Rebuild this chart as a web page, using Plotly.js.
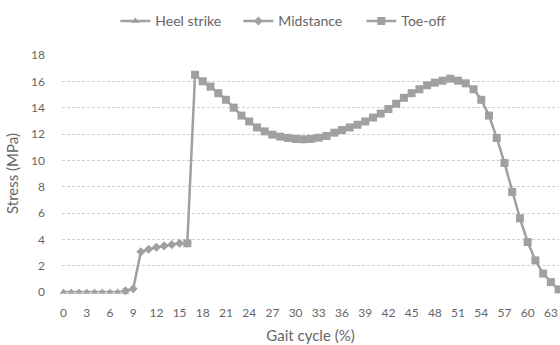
<!DOCTYPE html>
<html>
<head>
<meta charset="utf-8">
<script src="https://cdn.plot.ly/plotly-3.0.1.min.js"></script>
<style>html,body{margin:0;padding:0;background:#fff}#chart{width:560px;height:345px}</style>
</head>
<body>
<div id="chart"></div>
<script>
// Gait cycle (%) categories per series
const heelX = [0, 1, 2, 3, 4, 5, 6, 7, 8];
const heelY = [0, 0, 0, 0, 0, 0, 0, 0, 0];

const midX = [8, 9, 10, 11, 12, 13, 14, 15, 16];
const midY = [0.1, 0.25, 3.05, 3.25, 3.4, 3.5, 3.6, 3.7, 3.7];

const toeX = [16, 17, 18, 19, 20, 21, 22, 23, 24, 25, 26, 27, 28, 29, 30, 31, 32, 33, 34, 35, 36, 37, 38, 39, 40,
              41, 42, 43, 44, 45, 46, 47, 48, 49, 50, 51, 52, 53, 54, 55, 56, 57, 58, 59, 60, 61, 62, 63, 64];
const toeY = [3.7, 16.5, 16.0, 15.6, 15.1, 14.6, 14.0, 13.4, 12.95, 12.5, 12.2, 11.95, 11.8, 11.7, 11.62, 11.6, 11.63, 11.72, 11.85, 12.1, 12.3, 12.5, 12.7, 12.95, 13.25,
              13.55, 13.9, 14.3, 14.75, 15.1, 15.4, 15.7, 15.9, 16.05, 16.2, 16.05, 15.85, 15.4, 14.6, 13.4, 11.7, 9.8, 7.6, 5.6, 3.8, 2.4, 1.4, 0.75, 0.2];

const xTickVals = [0, 3, 6, 9, 12, 15, 18, 21, 24, 27, 30, 33, 36, 39, 42, 45, 48, 51, 54, 57, 60, 63];
const yTickVals = [0, 2, 4, 6, 8, 10, 12, 14, 16, 18];

const seriesNames = ['Heel strike', 'Midstance', 'Toe-off'];

const gray = '#a0a0a0';
const txt = '#666666';
const fam = 'Lato, "Open Sans", sans-serif';

function tr(x, y, name, symbol, size) {
  return {
    x: x, y: y, name: name, type: 'scatter', mode: 'lines+markers',
    line: {color: gray, width: 2.5},
    marker: {color: gray, symbol: symbol, size: size},
    cliponaxis: false
  };
}

const data = [
  tr(heelX, heelY, seriesNames[0], 'triangle-up', 7),
  tr(midX, midY, seriesNames[1], 'diamond', 7),
  tr(toeX, toeY, seriesNames[2], 'square', 8)
];

const layout = {
  width: 560, height: 345,
  margin: {l: 62, r: 1, t: 55, b: 53},
  paper_bgcolor: '#fff', plot_bgcolor: '#fff',
  font: {family: fam, color: txt, size: 12},
  showlegend: true,
  legend: {
    orientation: 'h', xref: 'container', yref: 'container',
    x: 0.206, xanchor: 'left', y: 0.938, yanchor: 'middle',
    font: {family: fam, color: txt, size: 14},
    itemwidth: 30, entrywidth: 78, entrywidthmode: 'pixels'
  },
  xaxis: {
    range: [-0.2, 64.05],
    tickmode: 'array', tickvals: xTickVals, ticktext: xTickVals.map(String),
    showgrid: false, zeroline: false, showline: false, ticks: '',
    ticklabelstandoff: 12,
    tickfont: {family: fam, color: txt, size: 12},
    title: {text: 'Gait cycle (%)', font: {family: fam, color: txt, size: 15}, standoff: 11}
  },
  yaxis: {
    range: [0, 18],
    tickmode: 'array', tickvals: yTickVals,
    showgrid: true, gridcolor: '#d0d0d0', gridwidth: 1, griddash: '3px,2px',
    zeroline: false, showline: false, ticks: '',
    ticklabelstandoff: 16,
    tickfont: {family: fam, color: txt, size: 12},
    title: {text: 'Stress (MPa)', font: {family: fam, color: txt, size: 15}, standoff: 8}
  }
};

Plotly.newPlot('chart', data, layout, {displayModeBar: false, staticPlot: true});
</script>
</body>
</html>
